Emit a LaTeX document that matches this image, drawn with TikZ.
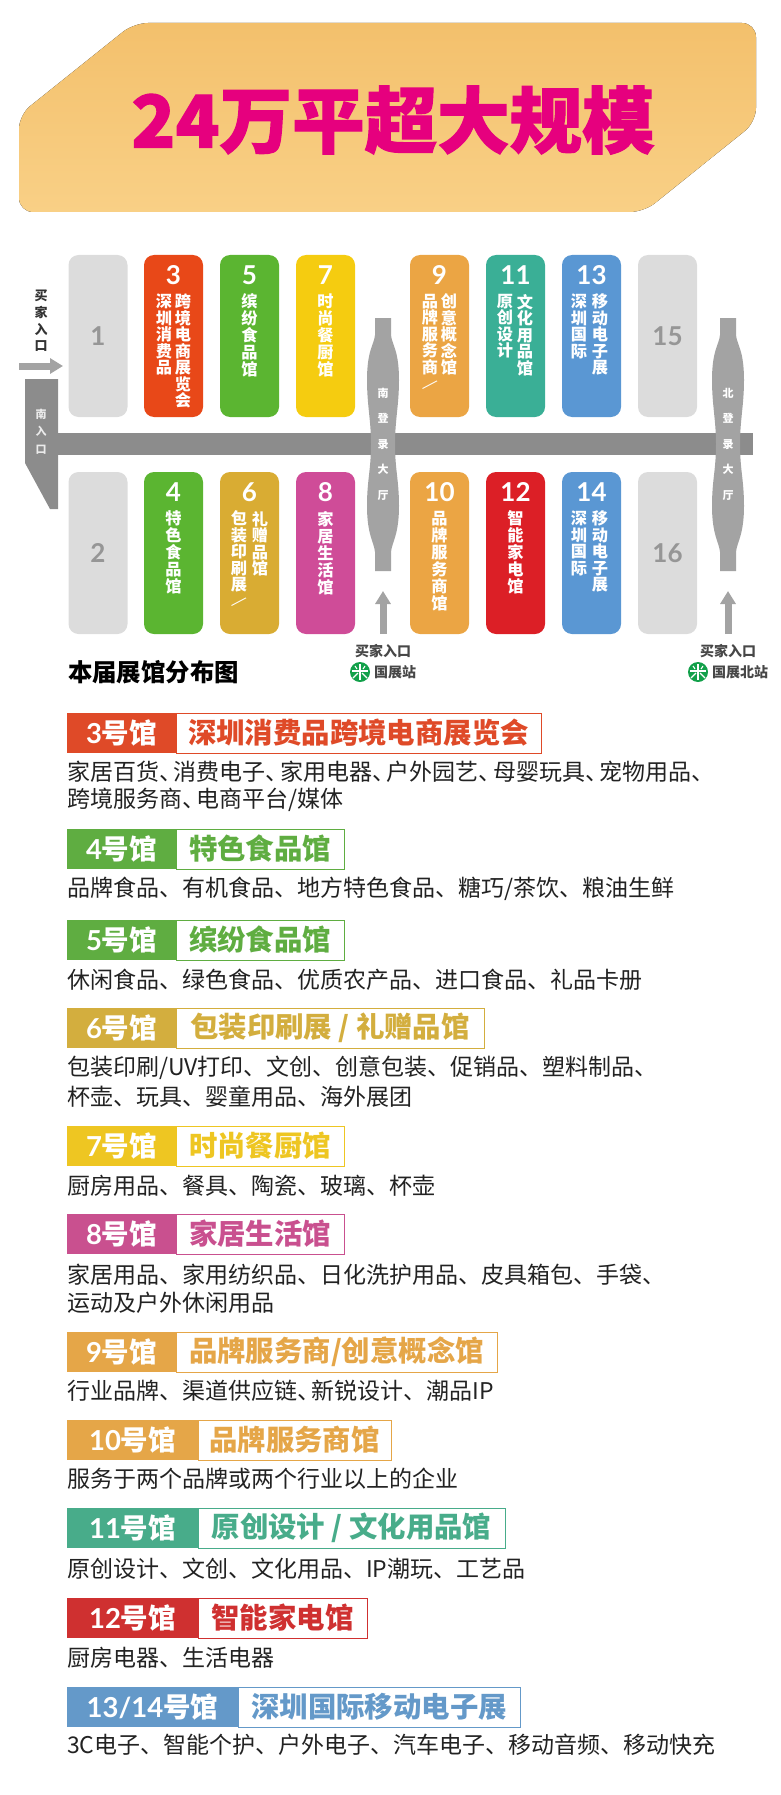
\documentclass[tikz,border=0pt]{standalone}
\usepackage{fontspec}
\usepackage{tikz}
\usetikzlibrary{arrows.meta}
\setmainfont{Noto Sans CJK SC}
\newfontfamily\latofont{Lato}
\newfontfamily\titlefont[BoldFeatures={FakeBold=1.5}]{Noto Sans CJK SC}
\newcommand{\dun}{、\kern-8.5pt}

\definecolor{bannertop}{HTML}{F3C06C}
\definecolor{bannerbot}{HTML}{F9D086}
\definecolor{titlepink}{HTML}{E6007E}
\definecolor{boxgray}{HTML}{DCDCDC}
\definecolor{digitgray}{HTML}{969696}
\definecolor{boxred}{HTML}{E84818}
\definecolor{boxgreen}{HTML}{5BB531}
\definecolor{boxyellow}{HTML}{F5CC10}
\definecolor{boxgold}{HTML}{D9AC33}
\definecolor{boxpink}{HTML}{CF4C98}
\definecolor{boxorange}{HTML}{EBA544}
\definecolor{boxteal}{HTML}{3AAF96}
\definecolor{boxcrimson}{HTML}{DC1F26}
\definecolor{boxblue}{HTML}{5A97D3}
\definecolor{roadgray}{HTML}{8C8C8C}
\definecolor{lobbygray}{HTML}{A3A3A3}
\definecolor{metrogreen}{HTML}{12A04A}
\definecolor{rowred}{HTML}{DF4A28}
\definecolor{rowgreen}{HTML}{5FAD41}
\definecolor{rowgold}{HTML}{D3AE3E}
\definecolor{rowyellow}{HTML}{EEC622}
\definecolor{rowpink}{HTML}{C9508F}
\definecolor{roworange}{HTML}{E5A648}
\definecolor{rowteal}{HTML}{48AC8A}
\definecolor{rowcrimson}{HTML}{CF3030}
\definecolor{rowblue}{HTML}{6499C9}
\definecolor{bodytxt}{HTML}{222222}

\begin{document}
\begin{tikzpicture}
  [x=1pt,y=-1pt,every node/.style={inner sep=0pt,outer sep=0pt},
   hallbox/.style={rounded corners=10pt,minimum width=59pt,minimum height=162pt},
   bignum/.style={font=\latofont\bfseries\fontsize{26}{26}\selectfont,text=white},
   vstack/.style={align=center,anchor=north,text=white,font=\bfseries\fontsize{16.2}{17}\selectfont},
   vstackb/.style={vstack,font=\bfseries\fontsize{16.2}{16.5}\selectfont},
   lobbytxt/.style={align=center,anchor=north,text=white,font=\bfseries\fontsize{11}{25.5}\selectfont},
   gatetxt/.style={font=\bfseries\fontsize{14}{14}\selectfont,text=black!72},
   metro/.style={circle,fill=metrogreen,minimum size=20pt,path picture={
     \begin{scope}[shift={(path picture bounding box.center)},white,line width=1.1pt]
       \draw (0,-8) -- (0,8);
       \draw (-8,-1) -- (8,-1);
       \draw (-2,1) -- (-7,6);
       \draw (2,1) -- (7,6);
       \draw (-5,-6) -- (-3,-3);
       \draw (5,-6) -- (3,-3);
     \end{scope}}},
   entryarrow/.style={draw=lobbygray,line width=7pt,-{Triangle[width=15pt,length=13pt]}},
   rowlabel/.style={anchor=north west,minimum height=40pt,text=white,font=\bfseries\fontsize{27.5}{27.5}\selectfont},
   rowtitle/.style={anchor=north west,minimum height=40pt,fill=white,line width=1pt,font=\bfseries\fontsize{28.4}{28.4}\selectfont},
   bodyline/.style={anchor=west,text=bodytxt,font=\fontsize{23}{23}\selectfont}]
  \useasboundingbox (0,0) rectangle (780,1795);

  % banner
  \fill[rounded corners=14pt,top color=bannertop,bottom color=bannerbot]
    (134,23) -- (756,23) -- (756,122) -- (644,212) -- (19,212) -- (19,115) -- cycle;
  \node[text=titlepink,font=\titlefont\bfseries\fontsize{72.5}{72.5}\selectfont] (banner) at (393,120) {24万平超大规模};

  % road and south entrance
  \fill[roadgray] (58,433) rectangle (753,455);
  \fill[roadgray] (25,379) -- (58,379) -- (58,509) -- (50,509) -- (25,463) -- cycle;

  % the two lobbies
  \foreach \cx in {383,728}
    \fill[lobbygray,shift={(\cx,0)}] (-8,318) -- (8,318) -- (8,335)
      .. controls (9,345) and (16,350) .. (16,380)
      .. controls (16,405) and (12,420) .. (12,444)
      .. controls (12,470) and (16,480) .. (16,506)
      .. controls (16,535) and (9,542) .. (8,552) -- (8,571) -- (-8,571) -- (-8,552)
      .. controls (-9,542) and (-16,535) .. (-16,506)
      .. controls (-16,480) and (-12,470) .. (-12,444)
      .. controls (-12,420) and (-16,405) .. (-16,380)
      .. controls (-16,350) and (-9,345) .. (-8,335) -- cycle;

  % gray halls
  \foreach \n/\cx/\cy in {1/98/336,2/98/553,15/667.5/336,16/667.5/553}
    \node[hallbox,fill=boxgray,bignum,text=digitgray] (hall\n) at (\cx,\cy) {\n};

  % colored halls
  \foreach \n/\cx/\col in {3/173.5/boxred,5/249.5/boxgreen,7/325.5/boxyellow,9/439.5/boxorange,11/515.5/boxteal,13/591.5/boxblue}{
    \node[hallbox,fill=\col] (hall\n) at (\cx,336) {};
    \node[bignum] (num\n) at (\cx,275) {\n};
  }
  \foreach \n/\cx/\col in {4/173.5/boxgreen,6/249.5/boxgold,8/325.5/boxpink,10/439.5/boxorange,12/515.5/boxcrimson,14/591.5/boxblue}{
    \node[hallbox,fill=\col] (hall\n) at (\cx,553) {};
    \node[bignum] (num\n) at (\cx,492) {\n};
  }

  % hall names, upper row
  \node[vstackb] (name3a) at (183,294) {跨\\境\\电\\商\\展\\览\\会};
  \node[vstackb] (name3b) at (164,294) {深\\圳\\消\\费\\品};
  \node[vstack] (name5) at (249.5,294) {缤\\纷\\食\\品\\馆};
  \node[vstack] (name7) at (325.5,294) {时\\尚\\餐\\厨\\馆};
  \node[vstackb] (name9a) at (449,294) {创\\意\\概\\念\\馆};
  \node[vstackb] (name9b) at (430,294) {品\\牌\\服\\务\\商\\\rotatebox[origin=c]{-45}{\mdseries /}};
  \node[vstackb] (name11a) at (525,294) {文\\化\\用\\品\\馆};
  \node[vstackb] (name11b) at (505,294) {原\\创\\设\\计};
  \node[vstackb] (name13a) at (600,294) {移\\动\\电\\子\\展};
  \node[vstackb] (name13b) at (579,294) {深\\圳\\国\\际};

  % hall names, lower row
  \node[vstack] (name4) at (173.5,511) {特\\色\\食\\品\\馆};
  \node[vstackb] (name6a) at (260,511) {礼\\赠\\品\\馆};
  \node[vstackb] (name6b) at (239,511) {包\\装\\印\\刷\\展\\\rotatebox[origin=c]{-45}{\mdseries /}};
  \node[vstack] (name8) at (325.5,511) {家\\居\\生\\活\\馆};
  \node[vstack] (name10) at (439.5,511) {品\\牌\\服\\务\\商\\馆};
  \node[vstack] (name12) at (515.5,511) {智\\能\\家\\电\\馆};
  \node[vstackb] (name14a) at (600,511) {移\\动\\电\\子\\展};
  \node[vstackb] (name14b) at (579,511) {深\\圳\\国\\际};

  % entrances
  \node[lobbytxt,text=black!80,font=\bfseries\fontsize{13}{16.7}\selectfont] (buyerw) at (41,290) {买\\家\\入\\口};
  \node[lobbytxt,text=white!92!black,font=\bfseries\fontsize{11}{17.5}\selectfont] (southin) at (41,409) {南\\入\\口};
  \node[lobbytxt] (southlobby) at (383,388) {南\\登\\录\\大\\厅};
  \node[lobbytxt] (northlobby) at (728,388) {北\\登\\录\\大\\厅};

  \coordinate (a1) at (19,366);
  \coordinate (a2) at (63,366);
  \coordinate (a3) at (383,634);
  \coordinate (a4) at (383,591);
  \coordinate (a5) at (728,634);
  \coordinate (a6) at (728,591);
  \foreach \from/\to in {a1/a2,a3/a4,a5/a6}
    \draw[entryarrow] (\from) -- (\to);

  \node[gatetxt] (gate1) at (383,651) {买家入口};
  \node[gatetxt] (gate2) at (728,651) {买家入口};
  \node[metro] (metro1) at (360,672) {};
  \node[metro] (metro2) at (698,672) {};
  \node[gatetxt,anchor=west] (stop1) at (374,672) {国展站};
  \node[gatetxt,anchor=west] (stop2) at (712,672) {国展北站};

  \node[anchor=west,font=\bfseries\fontsize{24.4}{24.4}\selectfont] (maptitle) at (68,672) {本届展馆分布图};

  % hall rows
  \foreach \id/\ya/\xs/\xe/\col/\num/\ttl in {
    3/713/176/541/rowred/3/深圳消费品跨境电商展览会,
    4/829/176/344/rowgreen/4/特色食品馆,
    5/920/176/344/rowgreen/5/缤纷食品馆,
    6/1008/176/484/rowgold/6/{包装印刷展 / 礼赠品馆},
    7/1126/176/344/rowyellow/7/时尚餐厨馆,
    8/1214/176/344/rowpink/8/家居生活馆,
    9/1332/176/497/roworange/9/{品牌服务商/创意概念馆},
    10/1420/198/391/roworange/10/品牌服务商馆,
    11/1508/198/505/rowteal/11/{原创设计 / 文化用品馆},
    12/1598/198/367/rowcrimson/12/智能家电馆,
    13/1687/238/520/rowblue/{13/14}/深圳国际移动电子展}{
    \node[rowtitle,draw=\col,text=\col,minimum width={(\xe-\xs)*1pt}] (ttl\id) at (\xs,\ya) {\ttl};
    \node[rowlabel,fill=\col,minimum width={(\xs-67)*1pt}] (lab\id) at (67,\ya) {{\latofont\num}号馆};
  }

  % hall contents
  \foreach \id/\y/\txt in {
    3a/772/家居百货\dun 消费电子\dun 家用电器\dun 户外园艺\dun 母婴玩具\dun 宠物用品、,
    3b/800/{跨境服务商\dun 电商平台/媒体},
    4a/889/{品牌食品、有机食品、地方特色食品、糖巧/茶饮、粮油生鲜},
    5a/980/休闲食品、绿色食品、优质农产品、进口食品、礼品卡册,
    6a/1068/{包装印刷/UV打印、文创、创意包装、促销品、塑料制品、},
    6b/1097/杯壶、玩具、婴童用品、海外展团,
    7a/1186/厨房用品、餐具、陶瓷、玻璃、杯壶,
    8a/1275/家居用品、家用纺织品、日化洗护用品、皮具箱包、手袋、,
    8b/1303/运动及户外休闲用品,
    9a/1391/行业品牌、渠道供应链\dun 新锐设计、潮品IP,
    10a/1479/服务于两个品牌或两个行业以上的企业,
    11a/1569/原创设计、文创、文化用品、IP潮玩、工艺品,
    12a/1658/厨房电器、生活电器,
    13a/1745/3C电子、智能个护、户外电子、汽车电子、移动音频、移动快充}
    \node[bodyline] (txt\id) at (67,\y) {\txt};

\end{tikzpicture}
\end{document}
